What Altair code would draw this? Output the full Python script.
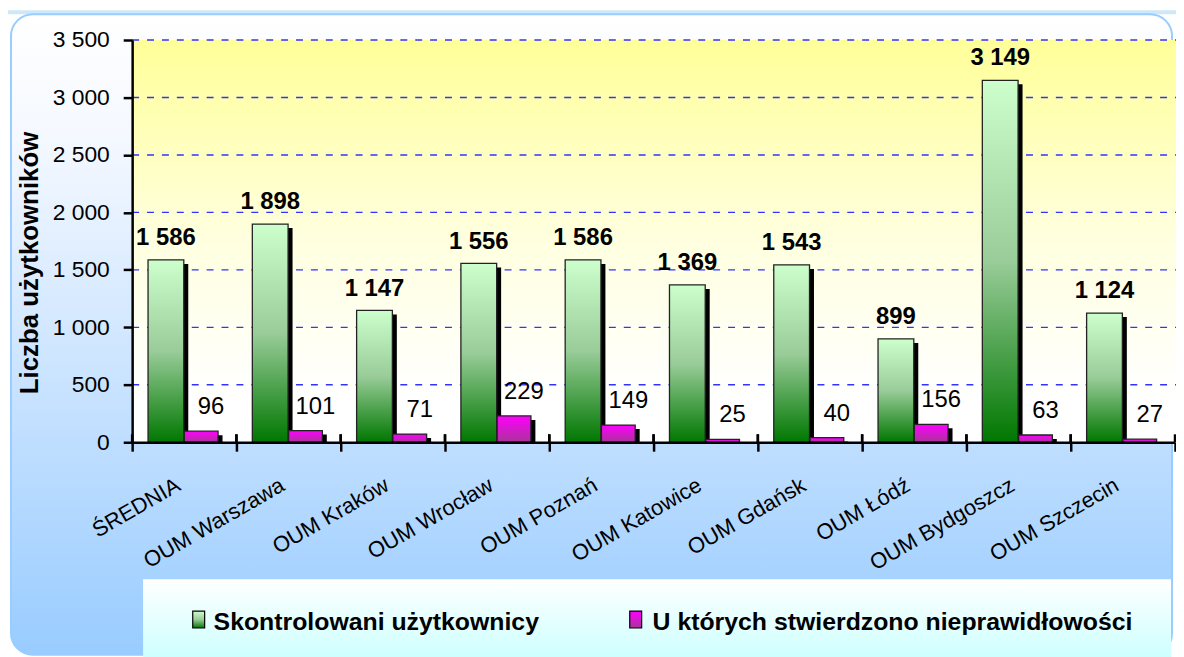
import altair as alt
import pandas as pd

categories = ["ŚREDNIA", "OUM Warszawa", "OUM Kraków", "OUM Wrocław", "OUM Poznań",
              "OUM Katowice", "OUM Gdańsk", "OUM Łódź", "OUM Bydgoszcz", "OUM Szczecin"]
skontrolowani = [1586, 1898, 1147, 1556, 1586, 1369, 1543, 899, 3149, 1124]
nieprawidlowosci = [96, 101, 71, 229, 149, 25, 40, 156, 63, 27]
y_ticks = [0, 500, 1000, 1500, 2000, 2500, 3000, 3500]
legend_labels = ["Skontrolowani użytkownicy", "U których stwierdzono nieprawidłowości"]
y_title = "Liczba użytkowników"

FONT = "Liberation Sans"
W, H = 1050, 405

df = pd.DataFrame({"kategoria": categories, "s": skontrolowani, "n": nieprawidlowosci})
ticks_df = pd.DataFrame({"t": y_ticks[1:]})
one = pd.DataFrame({"a": [0]})

fmt = "datum.{f} >= 1000 ? floor(datum.{f}/1000) + ' ' + format(datum.{f} % 1000, '03d') : format(datum.{f}, 'd')"


def grad(stops):
    return alt.LinearGradient(
        gradient="linear", x1=0, x2=0, y1=0, y2=1,
        stops=[alt.GradientStop(color=c, offset=o) for o, c in stops])


green = grad([(0, "#CCFFCC"), (0.5, "#99CC99"), (1, "#007700")])
magenta = grad([(0, "#FF00FF"), (1, "#AA3399")])
panel_fill = grad([(0, "#FFFFFF"), (0.2, "#F4F8FF"), (1, "#99CCFF")])
plot_fill = grad([(0, "#FFFF99"), (0.5, "#FFFFE0"), (0.88, "#FFFFFF"), (1, "#FFFFFF")])
legend_fill = grad([(0, "#FFFFFF"), (1, "#CCFFFF")])

yscale = alt.Scale(domain=[0, 3500], nice=False)
xscale = alt.Scale(paddingInner=0, paddingOuter=0)

x_axis = alt.Axis(
    title=None, labelAngle=-30, labelAlign="right", labelBaseline="alphabetic",
    labelFont=FONT, labelFontSize=22, labelColor="black", labelPadding=38,
    labelOffset=-3,
    labelLimit=400, labelOverlap=False, labelBound=False, labelFlush=False,
    tickBand="extent", tickSize=9, tickWidth=2.5, tickColor="black",
    domainColor="black", domainWidth=2.5, zindex=1, grid=False)

y_axis = alt.Axis(
    title=y_title, titleFont=FONT, titleFontSize=26, titleFontWeight="bold",
    titleColor="black", titleX=-103, titleY=224, titleAlign="center",
    titleBaseline="middle", titleAngle=-90,
    values=y_ticks, labelExpr=fmt.format(f="value"), labelFont=FONT,
    labelFontSize=23, labelColor="black", labelPadding=14,
    tickSize=9, tickWidth=2.5, tickColor="black",
    domainColor="black", domainWidth=2.5, zindex=1, grid=False)


def X(band_pos=None):
    if band_pos is None:
        return alt.X("kategoria:N", sort=categories, scale=xscale, axis=x_axis)
    return alt.X("kategoria:N", sort=categories, scale=xscale, axis=x_axis,
                 bandPosition=band_pos)


def Y(field):
    return alt.Y(field, scale=yscale, axis=y_axis)


top_strip = alt.Chart(one).mark_rect(fill="#CDE9F7").encode(
    x=alt.value(-125), x2=alt.value(W + 2), y=alt.value(-30), y2=alt.value(-26))

panel = alt.Chart(one).mark_rect(
    fill=panel_fill, stroke="#99CCFF", strokeWidth=2, cornerRadius=22).encode(
    x=alt.value(-122), x2=alt.value(1047), y=alt.value(-26), y2=alt.value(619))

plot_bg = alt.Chart(one).mark_rect(fill=plot_fill).encode(
    x=alt.value(0), x2=alt.value(W + 2), y=alt.value(0), y2=alt.value(H))

grid = alt.Chart(ticks_df).mark_rule(
    stroke="#3333FF", strokeWidth=1.4, strokeDash=[7, 8]).encode(
    y=Y("t:Q"), x=alt.value(0), x2=alt.value(W + 2))

GX, MX = -18.5, 17

g_shadow = alt.Chart(df).mark_bar(width=36, xOffset=GX + 4.5, yOffset=4, fill="black",
                                  clip=True).encode(x=X(), y=Y("s:Q"))
g_bar = alt.Chart(df).mark_bar(width=36, xOffset=GX, fill=green, stroke="#222222",
                               strokeWidth=1.3).encode(x=X(), y=Y("s:Q"))
m_shadow = alt.Chart(df).mark_bar(width=34, xOffset=MX + 4.5, yOffset=4, fill="black",
                                  clip=True).encode(x=X(), y=Y("n:Q"))
m_bar = alt.Chart(df).mark_bar(width=34, xOffset=MX, fill=magenta, stroke="#222222",
                               strokeWidth=1.3).encode(x=X(), y=Y("n:Q"))

# upper half of the "cross" tick marks on the category axis
up_ticks_l = alt.Chart(df).mark_rule(stroke="black", strokeWidth=2.5).encode(
    x=X(0), y=alt.value(H - 8), y2=alt.value(H))
up_ticks_r = alt.Chart(df).mark_rule(stroke="black", strokeWidth=2.5).encode(
    x=X(1), y=alt.value(H - 8), y2=alt.value(H))

g_text = alt.Chart(df).transform_calculate(lab=fmt.format(f="s")).mark_text(
    xOffset=GX, dy=-15, baseline="alphabetic", align="center", font=FONT,
    fontSize=24, fontWeight="bold", color="black").encode(
    x=X(), y=Y("s:Q"), text="lab:N")
m_text = alt.Chart(df).transform_calculate(lab=fmt.format(f="n")).mark_text(
    xOffset=MX + 10, dy=-17, baseline="alphabetic", align="center", font=FONT,
    fontSize=24, color="black").encode(
    x=X(), y=Y("n:Q"), text="lab:N")

leg_box = alt.Chart(one).mark_rect(fill=legend_fill).encode(
    x=alt.value(11), x2=alt.value(1046), y=alt.value(543), y2=alt.value(625))
leg_sw1 = alt.Chart(one).mark_rect(fill=green, stroke="black", strokeWidth=1.2).encode(
    x=alt.value(61), x2=alt.value(73), y=alt.value(575), y2=alt.value(592))
leg_sw2 = alt.Chart(one).mark_rect(fill=magenta, stroke="black", strokeWidth=1.2).encode(
    x=alt.value(501), x2=alt.value(513), y=alt.value(575), y2=alt.value(592))
leg_t1 = alt.Chart(one).mark_text(
    text=legend_labels[0], align="left", baseline="alphabetic", font=FONT,
    fontSize=25, fontWeight="bold", color="black").encode(x=alt.value(82), y=alt.value(594))
leg_t2 = alt.Chart(one).mark_text(
    text=legend_labels[1], align="left", baseline="alphabetic", font=FONT,
    fontSize=25, fontWeight="bold", color="black").encode(x=alt.value(524), y=alt.value(594))

chart = alt.layer(
    top_strip, panel, plot_bg, grid, g_shadow, m_shadow, g_bar, m_bar,
    up_ticks_l, up_ticks_r, g_text, m_text,
    leg_box, leg_sw1, leg_sw2, leg_t1, leg_t2
).properties(
    width=W, height=H,
    autosize=alt.AutoSizeParams(type="none"),
    padding={"left": 125, "top": 30, "right": 1, "bottom": 214},
).configure_view(stroke="transparent")

chart.save("out.html", embed_options={"renderer": "svg", "actions": False})
